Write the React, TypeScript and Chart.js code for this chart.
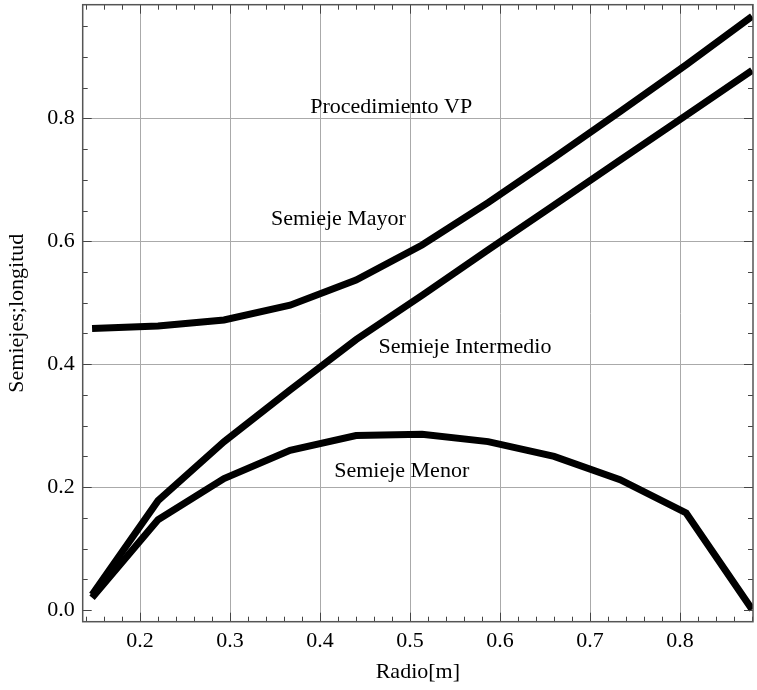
import React, { useEffect, useRef } from 'react';
import { Chart, registerables } from 'chart.js';

Chart.register(...registerables);

// Data
const radio = [0.1467, 0.22, 0.2933, 0.3667, 0.44, 0.5133, 0.5867, 0.66, 0.7333, 0.8067, 0.88];
const semiejeMayor = [0.458, 0.462, 0.472, 0.496, 0.537, 0.594, 0.663, 0.736, 0.811, 0.887, 0.966];
const semiejeIntermedio = [0.025, 0.178, 0.274, 0.358, 0.44, 0.512, 0.586, 0.659, 0.732, 0.805, 0.878];
const semiejeMenor = [0.02, 0.147, 0.214, 0.26, 0.284, 0.286, 0.274, 0.25, 0.212, 0.158, 0.001];

const xMajorTicks = [0.2, 0.3, 0.4, 0.5, 0.6, 0.7, 0.8];
const yMajorTicks = [0, 0.2, 0.4, 0.6, 0.8];
const xRange = [0.1363, 0.881];
const yRange = [-0.019, 0.985];

const xTitle = 'Radio[m]';
const yTitle = 'Semiejes;longitud';

const curveLabels = [
  { text: 'Procedimiento VP', x: 0.479, y: 0.818 },
  { text: 'Semieje Mayor', x: 0.4204, y: 0.636 },
  { text: 'Semieje Intermedio', x: 0.561, y: 0.427 },
  { text: 'Semieje Menor', x: 0.4907, y: 0.226 },
];

const FONT_FAMILY = "'Liberation Serif', 'Times New Roman', serif";
const FONT_SIZE = 22;

function minorTicks(min: number, max: number, step: number): number[] {
  const out: number[] = [];
  const start = Math.ceil(min / step - 1e-9);
  for (let k = start; k * step <= max + 1e-9; k++) out.push(+(k * step).toFixed(4));
  return out;
}

const framePlugin = {
  id: 'mmaFrame',
  afterDraw(chart: any) {
    const { ctx, chartArea, scales } = chart;
    const { left, right, top, bottom } = chartArea;
    const xs = scales.x;
    const ys = scales.y;
    ctx.save();
    // tick marks (inward, all four sides)
    ctx.strokeStyle = '#444';
    ctx.lineWidth = 1;
    const isMajor = (v: number, arr: number[]) => arr.some((m) => Math.abs(m - v) < 1e-6);
    minorTicks(xRange[0], xRange[1], 0.02).forEach((v) => {
      const px = Math.round(xs.getPixelForValue(v)) + 0.5;
      const len = isMajor(v, xMajorTicks) ? 9 : 5;
      ctx.beginPath();
      ctx.moveTo(px, bottom);
      ctx.lineTo(px, bottom - len);
      ctx.moveTo(px, top);
      ctx.lineTo(px, top + len);
      ctx.stroke();
    });
    minorTicks(yRange[0], yRange[1], 0.05).forEach((v) => {
      const py = Math.round(ys.getPixelForValue(v)) + 0.5;
      const len = isMajor(v, yMajorTicks) ? 9 : 5;
      ctx.beginPath();
      ctx.moveTo(left, py);
      ctx.lineTo(left + len, py);
      ctx.moveTo(right, py);
      ctx.lineTo(right - len, py);
      ctx.stroke();
    });
    // frame
    ctx.strokeStyle = '#555';
    ctx.lineWidth = 1.5;
    ctx.strokeRect(left, top, right - left, bottom - top);
    // curve labels
    ctx.fillStyle = '#000';
    ctx.font = `${FONT_SIZE}px ${FONT_FAMILY}`;
    ctx.textAlign = 'center';
    ctx.textBaseline = 'middle';
    curveLabels.forEach((l) => {
      ctx.fillText(l.text, xs.getPixelForValue(l.x), ys.getPixelForValue(l.y));
    });
    ctx.restore();
  },
};

export default function App() {
  const canvasRef = useRef<HTMLCanvasElement | null>(null);

  useEffect(() => {
    const canvas = canvasRef.current;
    if (!canvas) return;
    const mk = (label: string, ys: number[]) => ({
      label,
      data: radio.map((x, i) => ({ x, y: ys[i] })),
      borderColor: '#000',
      borderWidth: 7,
      borderCapStyle: 'butt',
      borderJoinStyle: 'miter',
      pointRadius: 0,
      tension: 0,
      fill: false,
    });
    const chart = new Chart(canvas, {
      type: 'line',
      data: {
        datasets: [
          mk('Semieje Mayor', semiejeMayor),
          mk('Semieje Intermedio', semiejeIntermedio),
          mk('Semieje Menor', semiejeMenor),
        ] as any,
      },
      options: {
        animation: false,
        responsive: false,
        maintainAspectRatio: false,
        layout: { padding: { left: 0, right: 4, top: 4.7, bottom: 0 } },
        plugins: { legend: { display: false }, tooltip: { enabled: false } },
        scales: {
          x: {
            type: 'linear',
            min: xRange[0],
            max: xRange[1],
            afterBuildTicks: (scale: any) => {
              scale.ticks = xMajorTicks.map((v) => ({ value: v }));
            },
            afterFit: (scale: any) => {
              scale.height = 68.3;
              scale.paddingLeft = 0;
              scale.paddingRight = 0;
            },
            grid: { color: '#aaa', lineWidth: 1, drawTicks: false },
            border: { display: false },
            ticks: {
              color: '#000',
              padding: 6,
              maxRotation: 0,
              font: { family: FONT_FAMILY, size: FONT_SIZE },
              callback: (v: any) => Number(v).toFixed(1),
            },
            title: {
              display: true,
              text: xTitle,
              color: '#000',
              padding: { top: 0, bottom: 5 },
              font: { family: FONT_FAMILY, size: FONT_SIZE },
            },
          },
          y: {
            type: 'linear',
            min: yRange[0],
            max: yRange[1],
            afterBuildTicks: (scale: any) => {
              scale.ticks = yMajorTicks.map((v) => ({ value: v }));
            },
            afterFit: (scale: any) => {
              scale.width = 82.7;
              scale.paddingTop = 0;
              scale.paddingBottom = 0;
            },
            grid: {
              color: (c: any) => (c.tick && Math.abs(c.tick.value) < 1e-9 ? 'rgba(0,0,0,0)' : '#aaa'),
              lineWidth: 1,
              drawTicks: false,
            },
            border: { display: false },
            ticks: {
              color: '#000',
              padding: 8,
              font: { family: FONT_FAMILY, size: FONT_SIZE },
              callback: (v: any) => Number(v).toFixed(1),
            },
            title: {
              display: true,
              text: yTitle,
              color: '#000',
              padding: { top: 4, bottom: 0 },
              font: { family: FONT_FAMILY, size: FONT_SIZE },
            },
          },
        },
      } as any,
      plugins: [framePlugin],
    });
    return () => chart.destroy();
  }, []);

  return (
    <div style={{ position: 'absolute', left: 0, top: 0, width: 757, height: 690, background: '#fff' }}>
      <canvas ref={canvasRef} width={757} height={690} />
    </div>
  );
}
